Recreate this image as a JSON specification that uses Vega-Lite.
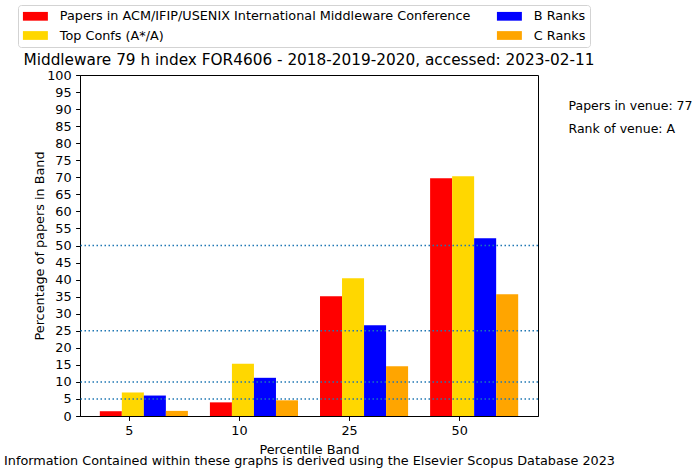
{
  "$schema": "https://vega.github.io/schema/vega-lite/v6.json",
  "width": 458,
  "height": 341,
  "autosize": {"type": "none"},
  "padding": {"left": 80, "top": 75, "right": 156, "bottom": 54},
  "background": "white",
  "title": {
    "text": "Middleware 79 h index FOR4606 - 2018-2019-2020, accessed: 2023-02-11",
    "frame": "group",
    "anchor": "middle",
    "offset": 6,
    "dy": 70,
    "fontSize": 15.3,
    "fontWeight": "normal",
    "font": "DejaVu Sans",
    "color": "black"
  },
  "config": {
    "font": "DejaVu Sans",
    "view": {"stroke": "black", "strokeWidth": 1},
    "axis": {
      "domainColor": "black",
      "domainWidth": 1,
      "tickColor": "black",
      "tickWidth": 1,
      "tickSize": 4.4,
      "labelColor": "black",
      "titleColor": "black",
      "labelFont": "DejaVu Sans",
      "titleFont": "DejaVu Sans",
      "labelFontSize": 12.8,
      "titleFontSize": 12.8,
      "titleFontWeight": "normal",
      "labelPadding": 4.5,
      "grid": false
    },
    "legend": {
      "labelFont": "DejaVu Sans",
      "labelFontSize": 12.8,
      "labelColor": "black",
      "labelLimit": 0
    }
  },
  "layer": [
    {
      "data": {
        "values": [
          {"band": "5", "series": "Papers in ACM/IFIP/USENIX International Middleware Conference", "value": 1.4},
          {"band": "5", "series": "Top Confs (A*/A)", "value": 6.9},
          {"band": "5", "series": "B Ranks", "value": 6.0},
          {"band": "5", "series": "C Ranks", "value": 1.5},
          {"band": "10", "series": "Papers in ACM/IFIP/USENIX International Middleware Conference", "value": 4.0},
          {"band": "10", "series": "Top Confs (A*/A)", "value": 15.3},
          {"band": "10", "series": "B Ranks", "value": 11.2},
          {"band": "10", "series": "C Ranks", "value": 4.6},
          {"band": "25", "series": "Papers in ACM/IFIP/USENIX International Middleware Conference", "value": 35.1},
          {"band": "25", "series": "Top Confs (A*/A)", "value": 40.4},
          {"band": "25", "series": "B Ranks", "value": 26.6},
          {"band": "25", "series": "C Ranks", "value": 14.6},
          {"band": "50", "series": "Papers in ACM/IFIP/USENIX International Middleware Conference", "value": 69.7},
          {"band": "50", "series": "Top Confs (A*/A)", "value": 70.3},
          {"band": "50", "series": "B Ranks", "value": 52.1},
          {"band": "50", "series": "C Ranks", "value": 35.7}
        ]
      },
      "mark": {"type": "bar"},
      "encoding": {
        "x": {
          "field": "band",
          "type": "nominal",
          "sort": ["5", "10", "25", "50"],
          "scale": {"paddingInner": 0.2, "paddingOuter": 0.18},
          "axis": {
            "title": ["Percentile Band", "Information Contained within these graphs is derived using the Elsevier Scopus Database 2023"],
            "titlePadding": 5.5,
            "titleLineHeight": 11.5,
            "labelAngle": 0,
            "tickOffset": -15
          }
        },
        "xOffset": {
          "field": "series",
          "type": "nominal",
          "sort": ["Papers in ACM/IFIP/USENIX International Middleware Conference", "Top Confs (A*/A)", "B Ranks", "C Ranks"],
          "scale": {"paddingInner": 0, "paddingOuter": 0}
        },
        "y": {
          "field": "value",
          "type": "quantitative",
          "scale": {"domain": [0, 100], "nice": false},
          "axis": {
            "title": "Percentage of papers in Band",
            "values": [0, 5, 10, 15, 20, 25, 30, 35, 40, 45, 50, 55, 60, 65, 70, 75, 80, 85, 90, 95, 100],
            "labelOverlap": false,
            "titlePadding": 0
          }
        },
        "color": {
          "field": "series",
          "type": "nominal",
          "scale": {
            "domain": ["Papers in ACM/IFIP/USENIX International Middleware Conference", "Top Confs (A*/A)", "B Ranks", "C Ranks"],
            "range": ["#ff0000", "#ffd700", "#0000ff", "#ffa500"]
          },
          "legend": {
            "title": null,
            "orient": "none",
            "legendX": -62,
            "legendY": -70,
            "columns": 2,
            "columnPadding": 26,
            "rowPadding": 5.6,
            "padding": 4.5,
            "labelLimit": 0,
            "symbolType": "M-2.08,-0.73L2.08,-0.73L2.08,0.73L-2.08,0.73Z",
            "symbolSize": 144,
            "symbolOffset": 6.5,
            "symbolStrokeWidth": 0,
            "labelOffset": 18,
            "strokeColor": "#d3d3d3",
            "fillColor": "white",
            "cornerRadius": 3
          }
        }
      }
    },
    {
      "data": {"values": [{"t": 5}, {"t": 10}, {"t": 25}, {"t": 50}]},
      "mark": {"type": "rule", "color": "#1f77b4", "strokeWidth": 1.5, "strokeDash": [1.5, 2.5]},
      "encoding": {
        "y": {
          "field": "t",
          "type": "quantitative",
          "axis": {
            "title": "Percentage of papers in Band",
            "values": [0, 5, 10, 15, 20, 25, 30, 35, 40, 45, 50, 55, 60, 65, 70, 75, 80, 85, 90, 95, 100],
            "labelOverlap": false,
            "titlePadding": 0
          }
        }
      }
    },
    {
      "data": {"values": [{"info": "Papers in venue: 77"}, {"info": "Rank of venue: A"}]},
      "mark": {"type": "point", "opacity": 0},
      "encoding": {
        "shape": {
          "field": "info",
          "type": "nominal",
          "scale": {"domain": ["Papers in venue: 77", "Rank of venue: A"]},
          "legend": {
            "title": null,
            "orient": "none",
            "legendX": 476,
            "legendY": 24.5,
            "padding": 0,
            "labelFontSize": 12.5,
            "symbolSize": 0,
            "symbolOpacity": 0,
            "symbolOffset": 0,
            "labelOffset": 0,
            "rowPadding": 10.1
          }
        }
      }
    }
  ]
}
